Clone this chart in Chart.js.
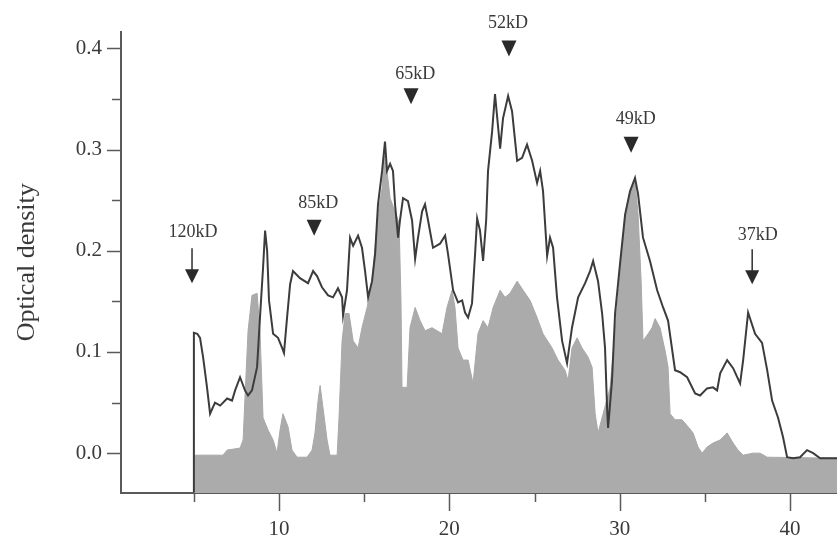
<!DOCTYPE html>
<html><head><meta charset="utf-8">
<script src="https://cdn.jsdelivr.net/npm/chart.js@4.4.1/dist/chart.umd.min.js"></script>
<style>html,body{margin:0;padding:0;background:#fff;}#wrap{width:837px;height:538px;position:relative;}</style>
</head><body><div id="wrap"><canvas id="c" width="837" height="538"></canvas></div>
<script>
// Densitometric trace (dark line)
const traceX = [5.0,5.0,5.2,5.36,5.54,5.77,5.95,6.24,6.54,6.95,
7.24,7.42,7.71,8.0,8.18,8.41,8.71,8.88,9.06,9.18,
9.30,9.41,9.65,9.94,10.18,10.29,10.47,10.65,10.82,11.23,
11.70,12.0,12.23,12.52,12.88,13.17,13.46,13.70,13.76,13.99,
14.17,14.35,14.64,14.87,15.05,15.23,15.46,15.64,15.81,16.05,
16.22,16.34,16.52,16.69,16.81,16.99,17.10,17.28,17.57,17.81,
17.99,18.16,18.40,18.57,18.75,19.04,19.45,19.75,19.92,20.22,
20.51,20.75,20.92,21.10,21.33,21.51,21.63,21.80,21.98,22.16,
22.27,22.51,22.68,22.98,23.15,23.45,23.68,23.98,24.27,24.56,
24.86,25.15,25.33,25.50,25.74,25.91,26.09,26.32,26.62,26.91,
27.20,27.56,27.97,28.26,28.44,28.73,28.97,29.14,29.26,29.32,
29.55,29.73,30.02,30.32,30.61,30.90,31.08,31.37,31.78,32.20,
32.55,32.84,33.25,33.55,33.96,34.43,34.72,35.13,35.48,35.72,
35.90,36.31,36.66,37.07,37.25,37.54,37.95,38.36,38.66,38.95,
39.30,39.59,39.83,40.18,40.59,41.00,41.36,41.77,42.77];
const traceY = [-0.039,0.119,0.118,0.114,0.095,0.065,0.039,0.050,0.047,0.054,
0.052,0.062,0.075,0.062,0.057,0.062,0.085,0.134,0.183,0.220,
0.200,0.151,0.118,0.114,0.104,0.099,0.134,0.167,0.180,0.173,
0.168,0.180,0.175,0.164,0.156,0.154,0.163,0.154,0.136,0.161,
0.213,0.205,0.215,0.203,0.180,0.154,0.170,0.197,0.246,0.279,
0.308,0.279,0.286,0.279,0.246,0.213,0.230,0.252,0.249,0.230,
0.192,0.213,0.239,0.246,0.230,0.203,0.207,0.215,0.197,0.161,
0.149,0.151,0.139,0.134,0.148,0.197,0.232,0.220,0.190,0.230,
0.279,0.318,0.355,0.301,0.331,0.353,0.338,0.289,0.292,0.305,
0.289,0.267,0.279,0.259,0.195,0.213,0.203,0.154,0.111,0.089,
0.124,0.154,0.168,0.180,0.190,0.170,0.138,0.104,0.045,0.025,
0.072,0.138,0.187,0.236,0.259,0.272,0.256,0.213,0.190,0.161,
0.144,0.131,0.082,0.080,0.075,0.059,0.057,0.064,0.065,0.062,
0.079,0.092,0.084,0.069,0.092,0.139,0.118,0.109,0.082,0.052,
0.035,0.016,-0.004,-0.005,-0.004,0.003,0.000,-0.005,-0.005];

// Shaded profile (grey area)
const fillX = [5.0,6.71,6.95,7.71,7.89,8.0,8.18,8.41,8.71,8.88,
9.06,9.35,9.65,9.88,10.06,10.23,10.53,10.76,11.06,11.64,
11.94,12.11,12.29,12.41,12.58,12.82,12.99,13.41,13.52,13.70,
13.88,14.11,14.35,14.64,14.87,15.17,15.46,15.64,15.81,16.05,
16.17,16.34,16.52,16.81,17.05,17.16,17.22,17.52,17.69,17.99,
18.28,18.57,18.98,19.28,19.57,19.86,20.16,20.33,20.51,20.80,
21.10,21.39,21.68,21.98,22.27,22.57,22.98,23.27,23.56,23.98,
24.33,24.74,25.15,25.50,26.03,26.38,26.79,26.97,27.20,27.50,
27.79,28.14,28.38,28.56,28.73,29.03,29.44,29.73,30.02,30.32,
30.61,30.90,31.08,31.26,31.37,31.67,31.90,32.08,32.37,32.67,
32.84,32.96,33.25,33.66,34.02,34.31,34.60,34.84,35.13,35.48,
35.90,36.31,36.66,36.95,37.25,37.83,38.24,38.66,42.77];
const fillY = [-0.002,-0.002,0.003,0.005,0.013,0.055,0.121,0.156,0.158,0.121,
0.035,0.023,0.013,0.000,0.023,0.039,0.026,0.003,-0.004,-0.004,
0.003,0.020,0.052,0.067,0.045,0.013,-0.002,-0.002,0.035,0.111,
0.138,0.138,0.111,0.104,0.124,0.144,0.170,0.203,0.236,0.262,
0.294,0.279,0.252,0.239,0.227,0.151,0.065,0.065,0.124,0.144,
0.131,0.121,0.124,0.121,0.118,0.144,0.161,0.144,0.104,0.092,
0.092,0.069,0.118,0.131,0.124,0.144,0.161,0.154,0.158,0.170,
0.161,0.151,0.134,0.118,0.104,0.092,0.082,0.072,0.104,0.114,
0.104,0.095,0.085,0.039,0.020,0.039,0.065,0.121,0.177,0.236,
0.259,0.269,0.236,0.170,0.111,0.118,0.124,0.133,0.124,0.101,
0.085,0.039,0.033,0.033,0.026,0.020,0.006,0.000,0.006,0.010,
0.013,0.020,0.010,0.003,-0.002,0.000,0.000,-0.004,-0.005];

// Axis ticks
const xTickValues = [5,10,15,20,25,30,35,40];
const xTickLabels = ['','10','','20','','30','','40'];
const yTickValues = [0,0.05,0.1,0.15,0.2,0.25,0.3,0.35,0.4];
const yTickLabels = ['0.0','','0.1','','0.2','','0.3','','0.4'];

// Molecular-weight markers
const markerLabels = ['120kD','85kD','65kD','52kD','49kD','37kD'];
const markerKinds  = ['arrow','triangle','triangle','triangle','triangle','arrow'];
const markerX      = [4.89,12.06,17.75,23.5,30.67,37.78];
const markerTipY   = [0.168,0.215,0.345,0.392,0.297,0.167];
const labelX       = [4.95,12.3,18.0,23.45,30.95,38.1];
const labelY       = [0.218,0.247,0.375,0.425,0.330,0.215];

const SERIF = '"Liberation Serif","DejaVu Serif",serif';
const TEXT = '#3a3a3a';
const AXIS = '#5a5a5a';

const minorTicks = {
  id: 'minorTicks',
  afterDraw(chart) {
    const ctx = chart.ctx, xs = chart.scales.x, ys = chart.scales.y;
    ctx.save();
    ctx.strokeStyle = AXIS;
    ctx.lineWidth = 1.5;
    xTickValues.forEach((v, i) => {
      const px = Math.round(xs.getPixelForValue(v)) + 0.5;
      const len = xTickLabels[i] ? 18 : 9;
      ctx.beginPath(); ctx.moveTo(px, xs.top); ctx.lineTo(px, xs.top + len); ctx.stroke();
    });
    yTickValues.forEach((v, i) => {
      const py = Math.round(ys.getPixelForValue(v)) + 0.5;
      const len = yTickLabels[i] ? 14 : 9;
      ctx.beginPath(); ctx.moveTo(ys.right, py); ctx.lineTo(ys.right - len, py); ctx.stroke();
    });
    ctx.restore();
  }
};

const markers = {
  id: 'markers',
  afterDatasetsDraw(chart) {
    const ctx = chart.ctx, xs = chart.scales.x, ys = chart.scales.y;
    ctx.save();
    ctx.fillStyle = '#2e2e2e';
    ctx.strokeStyle = '#2e2e2e';
    ctx.font = '18px ' + SERIF;
    ctx.textAlign = 'center';
    ctx.textBaseline = 'middle';
    markerLabels.forEach((t, i) => {
      ctx.fillStyle = TEXT;
      ctx.fillText(t, xs.getPixelForValue(labelX[i]), ys.getPixelForValue(labelY[i]));
      const mx = xs.getPixelForValue(markerX[i]);
      const my = ys.getPixelForValue(markerTipY[i]);
      ctx.fillStyle = '#2a2a2a';
      if (markerKinds[i] === 'arrow') {
        ctx.lineWidth = 1.5;
        ctx.beginPath(); ctx.moveTo(mx, my - 35); ctx.lineTo(mx, my - 12); ctx.stroke();
        ctx.beginPath(); ctx.moveTo(mx - 7, my - 14); ctx.lineTo(mx + 7, my - 14); ctx.lineTo(mx, my); ctx.closePath(); ctx.fill();
      } else {
        ctx.beginPath(); ctx.moveTo(mx - 7.5, my - 16); ctx.lineTo(mx + 7.5, my - 16); ctx.lineTo(mx, my); ctx.closePath(); ctx.fill();
      }
    });
    ctx.restore();
  }
};

new Chart(document.getElementById('c'), {
  type: 'line',
  data: {
    datasets: [
      {
        data: traceX.map((x, i) => ({x, y: traceY[i]})),
        borderColor: '#3c3c3c', borderWidth: 2, pointRadius: 0, fill: false, tension: 0, order: 0
      },
      {
        data: fillX.map((x, i) => ({x, y: fillY[i]})),
        borderColor: '#a9a9a9', borderWidth: 1, backgroundColor: '#ababab', pointRadius: 0,
        fill: 'start', tension: 0, order: 1
      }
    ]
  },
  options: {
    responsive: false, animation: false, devicePixelRatio: 1,
    layout: { padding: { top: 30, left: 0, right: 0, bottom: 0 } },
    plugins: { legend: { display: false }, tooltip: { enabled: false } },
    scales: {
      x: {
        type: 'linear', min: 0.72, max: 42.76,
        afterBuildTicks: s => { s.ticks = xTickValues.map(v => ({value: v})); },
        afterFit: s => { s.height = 45; },
        grid: { display: false, drawTicks: false },
        border: { display: true, color: AXIS, width: 2 },
        ticks: { autoSkip: false, maxRotation: 0, padding: 24, color: TEXT,
          font: { family: SERIF, size: 21 },
          callback: (v, i) => xTickLabels[i] }
      },
      y: {
        type: 'linear', min: -0.0394, max: 0.4167,
        afterBuildTicks: s => { s.ticks = yTickValues.map(v => ({value: v})); },
        afterFit: s => { s.width = 121; },
        grid: { display: false, drawTicks: false },
        border: { display: true, color: AXIS, width: 2 },
        ticks: { autoSkip: false, padding: 19, color: TEXT,
          font: { family: SERIF, size: 21 },
          callback: (v, i) => yTickLabels[i] },
        title: { display: true, text: 'Optical density', color: TEXT,
          font: { family: SERIF, size: 26 }, padding: { top: 12, bottom: 0 } }
      }
    }
  },
  plugins: [minorTicks, markers]
});
</script></body></html>
